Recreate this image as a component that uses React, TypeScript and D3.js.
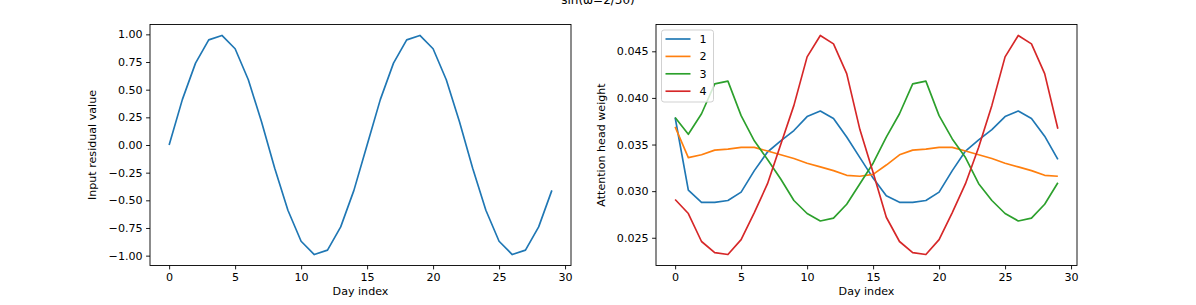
import React, { useEffect, useRef } from 'react';
import * as d3 from 'd3';

// day index on the x axis of both panels
const days = d3.range(30);

// left panel: the input residual (sine wave)
const residual = [
  0.0, 0.41, 0.74, 0.95, 0.99, 0.87, 0.59, 0.21, -0.21, -0.59,
  -0.87, -0.99, -0.95, -0.74, -0.41, 0.0, 0.41, 0.74, 0.95, 0.99,
  0.87, 0.59, 0.21, -0.21, -0.59, -0.87, -0.99, -0.95, -0.74, -0.41,
];

// right panel: attention head weights, one array per head
const head1 = [
  0.0379, 0.0301, 0.0288, 0.0288, 0.029, 0.0299, 0.0322, 0.0342, 0.0354, 0.0365,
  0.038, 0.0386, 0.0378, 0.0358, 0.0336, 0.0314, 0.0295, 0.0288, 0.0288, 0.029,
  0.0299, 0.0322, 0.0343, 0.0355, 0.0366, 0.038, 0.0386, 0.0378, 0.0359, 0.0334,
];
const head2 = [
  0.0369, 0.0336, 0.0339, 0.0344, 0.0345, 0.0347, 0.0347, 0.0343, 0.0339, 0.0335,
  0.033, 0.0326, 0.0322, 0.0317, 0.0316, 0.0318, 0.0328, 0.0339, 0.0344, 0.0345,
  0.0347, 0.0347, 0.0343, 0.0339, 0.0335, 0.033, 0.0326, 0.0322, 0.0317, 0.0316,
];
const head3 = [
  0.0379, 0.0361, 0.0383, 0.0415, 0.0418, 0.0381, 0.0354, 0.0334, 0.0313, 0.029,
  0.0276, 0.0268, 0.0271, 0.0286, 0.0308, 0.033, 0.0358, 0.0383, 0.0415, 0.0418,
  0.0381, 0.0356, 0.0336, 0.0308, 0.029, 0.0276, 0.0268, 0.0271, 0.0286, 0.0309,
];
const head4 = [
  0.0291, 0.0276, 0.0246, 0.0234, 0.0232, 0.0248, 0.0277, 0.0308, 0.035, 0.0392,
  0.0444, 0.0467, 0.0458, 0.0426, 0.0366, 0.032, 0.0272, 0.0246, 0.0234, 0.0232,
  0.0248, 0.0277, 0.0308, 0.0347, 0.0392, 0.0444, 0.0467, 0.0458, 0.0426, 0.0367,
];
const heads = [head1, head2, head3, head4];
const headLabels = ['1', '2', '3', '4'];
const colors = ['#1f77b4', '#ff7f0e', '#2ca02c', '#d62728'];

const xTicks = [0, 5, 10, 15, 20, 25, 30];
const residualTicks = [-1, -0.75, -0.5, -0.25, 0, 0.25, 0.5, 0.75, 1];
const weightTicks = [0.025, 0.03, 0.035, 0.04, 0.045];

const FONT = 'DejaVu Sans, sans-serif';
const FS = 11.1;

function padded(vals: number[]) {
  const [lo, hi] = d3.extent(vals) as [number, number];
  const p = (hi - lo) * 0.05;
  return [lo - p, hi + p];
}

function drawPanel(svg: any, o: any) {
  const g = svg.append('g');
  const x = d3.scaleLinear().domain(padded(days)).range([o.left, o.right]);
  const y = d3.scaleLinear().domain(padded(o.series.flat())).range([o.bottom, o.top]);

  const line = d3.line<number>().x((d, i) => x(days[i])).y(d => y(d));
  o.series.forEach((s: number[], i: number) => {
    g.append('path').datum(s).attr('d', line)
      .attr('fill', 'none').attr('stroke', o.colors[i])
      .attr('stroke-width', 1.67).attr('stroke-linejoin', 'round')
  });

  const xAxis = g.append('g').attr('transform', `translate(0,${o.bottom})`)
    .call(d3.axisBottom(x).tickValues(xTicks).tickSize(3.9).tickPadding(3.5).tickFormat(d3.format('d')));
  const yAxis = g.append('g').attr('transform', `translate(${o.left},0)`)
    .call(d3.axisLeft(y).tickValues(o.yTicks).tickSize(3.9).tickPadding(3.5).tickFormat(d3.format(o.fmt)));
  [xAxis, yAxis].forEach(a => {
    a.select('.domain').remove();
    a.selectAll('line').attr('stroke', '#000').attr('stroke-width', 0.9);
    a.selectAll('text').attr('fill', '#000').style('font-family', FONT).style('font-size', FS + 'px');
  });

  g.append('rect').attr('x', o.left).attr('y', o.top)
    .attr('width', o.right - o.left).attr('height', o.bottom - o.top)
    .attr('fill', 'none').attr('stroke', '#000').attr('stroke-width', 0.9);

  g.append('text').attr('x', (o.left + o.right) / 2).attr('y', 295)
    .attr('text-anchor', 'middle').style('font-family', FONT).style('font-size', FS + 'px')
    .text('Day index');
  const cy = (o.top + o.bottom) / 2;
  g.append('text').attr('x', o.yLabelX).attr('y', cy)
    .attr('text-anchor', 'middle').attr('transform', `rotate(-90,${o.yLabelX},${cy})`)
    .style('font-family', FONT).style('font-size', FS + 'px')
    .text(o.yLabel);
  return { x, y };
}

export default function App() {
  const ref = useRef<SVGSVGElement>(null);

  useEffect(() => {
    const svg = d3.select(ref.current);
    svg.selectAll('*').remove();
    svg.append('rect').attr('width', 1196).attr('height', 305).attr('fill', '#fff');

    svg.append('text').attr('x', 598).attr('y', 3.5).attr('text-anchor', 'middle')
      .style('font-family', FONT).style('font-size', '12px').text('sin(ω=2/30)');

    drawPanel(svg, {
      left: 150, right: 571, top: 24.5, bottom: 265.5,
      series: [residual], colors: [colors[0]],
      yTicks: residualTicks, fmt: '.2f',
      yLabel: 'Input residual value', yLabelX: 96,
    });

    const right = { left: 656, right: 1077, top: 24.5, bottom: 265.5 };
    drawPanel(svg, {
      ...right,
      series: heads, colors,
      yTicks: weightTicks, fmt: '.3f',
      yLabel: 'Attention head weight', yLabelX: 605,
    });

    // legend, upper left of the right panel
    const lg = svg.append('g').attr('transform', `translate(${right.left + 5.5},${right.top + 5.5})`);
    lg.append('rect').attr('width', 52).attr('height', 72).attr('rx', 2.5)
      .attr('fill', '#fff').attr('fill-opacity', 0.8).attr('stroke', '#ccc').attr('stroke-width', 0.9);
    headLabels.forEach((lab, i) => {
      const ry = 9 + i * 17.4;
      lg.append('line').attr('x1', 4).attr('x2', 29).attr('y1', ry).attr('y2', ry)
        .attr('stroke', colors[i]).attr('stroke-width', 1.67);
      lg.append('text').attr('x', 38).attr('y', ry).attr('dy', '0.36em')
        .style('font-family', FONT).style('font-size', FS + 'px').text(lab);
    });
  }, []);

  return (
    <svg ref={ref} width={1196} height={305}
      style={{ position: 'absolute', left: 0, top: 0 }} />
  );
}
